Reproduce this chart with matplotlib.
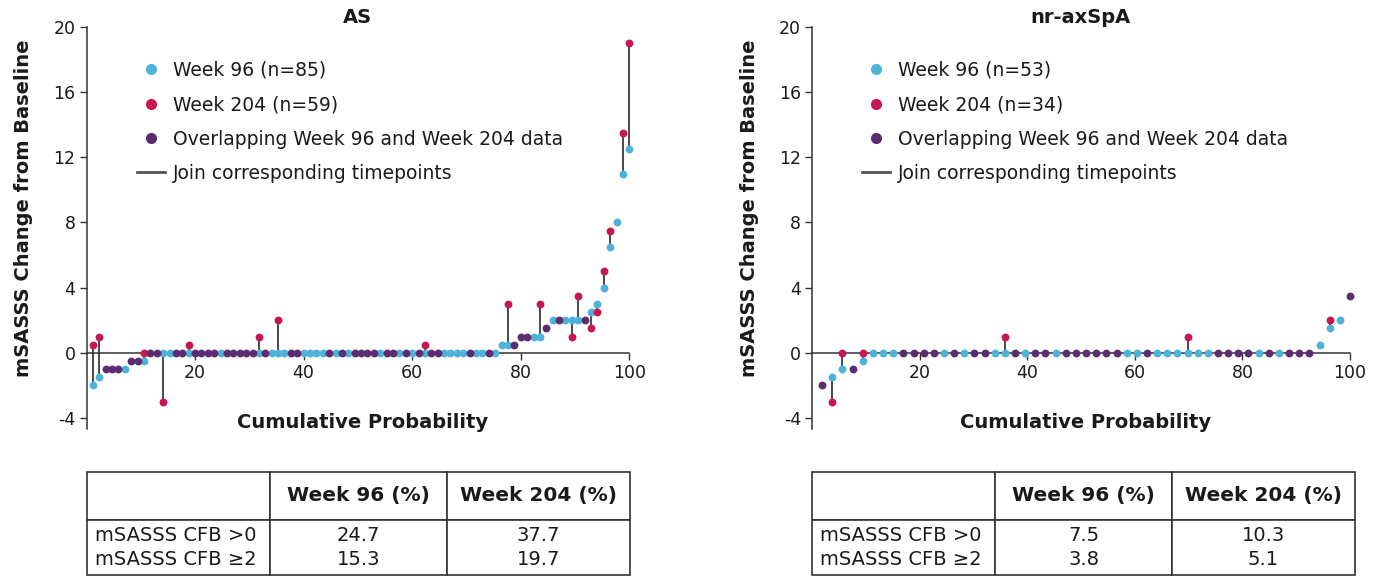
import numpy as np
import matplotlib
matplotlib.use("Agg")
import matplotlib.pyplot as plt
from matplotlib.lines import Line2D

plt.rcParams["font.family"] = ["DejaVu Sans"]
plt.rcParams["axes.unicode_minus"] = False

N = np.nan
# ---------------- data ----------------
PANEL_TITLES = ["AS", "nr-axSpA"]
N_W96 = [85, 53]
N_W204 = [59, 34]

AS_W96 = ([-2, -1.5, -1, -1, -1, -1, -0.5, -0.5, -0.5, 0]
          + [0] * 54
          + [0.5, 0.5, 0.5, 1, 1, 1, 1, 1.5, 2, 2, 2, 2, 2, 2, 2.5, 3, 4, 6.5, 8, 11, 12.5])
AS_W204 = [0.5, 1, -1, -1, -1, N, -0.5, -0.5, 0, 0,
           0, -3, N, 0, 0, 0.5, 0, 0, 0, 0,
           N, 0, 0, 0, 0, 0, 1, 0, N, 2,
           N, 0, 0, N, N, N, N, 0, N, 0,
           N, 0, 0, 0, 0, N, 0, 0, N, 0,
           N, 0, 0.5, 0, 0, N, N, N, N, 0,
           N, N, 0, N, N, 3, 0.5, 1, 1, N,
           3, 1.5, N, 2, N, 1, 3.5, 2, 1.5, 2.5,
           5, 7.5, N, 13.5, 19]

NR_W96 = ([-2, -1.5, -1, -1, -0.5, 0, 0, 0, 0, 0]
          + [0] * 39
          + [0.5, 1.5, 2, 3.5])
NR_W204 = [-2, -3, 0, -1, 0, N, N, N, 0, 0,
           0, 0, N, 0, N, 0, 0, N, 1, 0,
           N, 0, 0, N, 0, 0, 0, 0, 0, 0,
           N, N, 0, N, N, N, 1, N, N, 0,
           0, 0, 0, N, 0, N, 0, 0, 0, N,
           2, N, 3.5]

TABLE_HEADER = ["", "Week 96 (%)", "Week 204 (%)"]
ROW_LABELS = ["mSASSS CFB >0", "mSASSS CFB \u22652"]
AS_TABLE = [["24.7", "37.7"], ["15.3", "19.7"]]
NR_TABLE = [["7.5", "10.3"], ["3.8", "5.1"]]

X_TICKS = [20, 40, 60, 80, 100]
Y_TICKS = [-4, 0, 4, 8, 12, 16, 20]

# ---------------- style ----------------
BLUE = "#4DB3D8"
RED = "#C8174E"
PURPLE = "#5B2C6F"
LINE = "#3a3a3a"
TXT = "#1a1a1a"
SPINE = "#333333"

W, H = 1386, 576
fig = plt.figure(figsize=(W / 100, H / 100), dpi=100)


def px_axes(l, t, r, b):
    return fig.add_axes([l / W, 1 - b / H, (r - l) / W, (b - t) / H])


def draw_panel(ax, w96, w204, title, n96, n204):
    w96 = np.asarray(w96, float)
    w204 = np.asarray(w204, float)
    n = len(w96)
    x = np.arange(1, n + 1) * 100.0 / n
    has = ~np.isnan(w204)
    same = has & (w204 == w96)
    diff = has & ~same
    only = ~has

    ax.vlines(x[diff], w96[diff], w204[diff], color=LINE, lw=1.3, zorder=3, clip_on=False)
    blue_mask = only | diff
    ms = 32
    ax.scatter(x[blue_mask], w96[blue_mask], s=ms, color=BLUE, zorder=5, clip_on=False, linewidths=0)
    ax.scatter(x[diff], w204[diff], s=ms, color=RED, zorder=5, clip_on=False, linewidths=0)
    ax.scatter(x[same], w96[same], s=ms, color=PURPLE, zorder=5, clip_on=False, linewidths=0)

    ax.set_xlim(0, 100)
    ax.set_ylim(-4.7, 20)
    ax.set_xticks(X_TICKS)
    ax.set_yticks(Y_TICKS)
    ax.set_yticklabels([str(v) for v in Y_TICKS])
    for s in ["top", "right"]:
        ax.spines[s].set_visible(False)
    ax.spines["bottom"].set_position(("data", 0))
    for s in ["left", "bottom"]:
        ax.spines[s].set_color(SPINE)
        ax.spines[s].set_linewidth(1.1)
    ax.tick_params(axis="both", direction="out", length=5, width=1.0, color=SPINE,
                   labelsize=12.5, labelcolor=TXT)
    ax.tick_params(axis="x", pad=3)
    ax.tick_params(axis="y", pad=3)
    ax.patch.set_alpha(0)

    ax.set_title(title, fontsize=14, fontweight="bold", color=TXT, pad=-2)
    ax.text(-0.116, 0.55, "mSASSS Change from Baseline", rotation=90, ha="center", va="center",
            transform=ax.transAxes, fontsize=14, fontweight="bold", color=TXT)
    ax.text(0.509, 0.018, "Cumulative Probability", ha="center", va="center",
            transform=ax.transAxes, fontsize=14, fontweight="bold", color=TXT)

    handles = [
        Line2D([], [], ls="none", marker="o", ms=8, mfc=BLUE, mec="none"),
        Line2D([], [], ls="none", marker="o", ms=8, mfc=RED, mec="none"),
        Line2D([], [], ls="none", marker="o", ms=8, mfc=PURPLE, mec="none"),
        Line2D([], [], color="#555555", lw=2),
    ]
    labels = [f"Week 96 (n={n96})", f"Week 204 (n={n204})",
              "Overlapping Week 96 and Week 204 data", "Join corresponding timepoints"]
    leg = ax.legend(handles, labels, loc="upper left", bbox_to_anchor=(0.093, 0.916),
                    frameon=False, fontsize=13.5, handlelength=1.5, handletextpad=0.4,
                    labelspacing=0.82, borderpad=0, borderaxespad=0)
    for t in leg.get_texts():
        t.set_color(TXT)


def draw_table(tax, rows):
    tax.axis("off")
    cell_text = [TABLE_HEADER,
                 ["\n".join(ROW_LABELS), "\n".join(r[0] for r in rows), "\n".join(r[1] for r in rows)]]
    tbl = tax.table(cellText=cell_text, cellLoc="center",
                    colWidths=[183, 177, 183], bbox=[0, 0, 1, 1])
    tbl.auto_set_font_size(False)
    tbl.set_fontsize(14)
    for (r, c), cell in tbl.get_celld().items():
        cell.set_edgecolor(SPINE)
        cell.set_linewidth(1.2)
        cell.set_height(48 if r == 0 else 56)
        cell.get_text().set_color(TXT)
        if r == 0:
            cell.get_text().set_fontweight("bold")
            cell.get_text().set_fontsize(14.5)
        else:
            cell.get_text().set_linespacing(1.3)
        if r == 1 and c == 0:
            cell._loc = "left"
            cell.PAD = 0.045
            cell.get_text().set_ha("left")


ax1 = px_axes(86.5, 27, 629.3, 429.4)
ax2 = px_axes(812, 27, 1350, 429.4)
draw_panel(ax1, AS_W96, AS_W204, PANEL_TITLES[0], N_W96[0], N_W204[0])
draw_panel(ax2, NR_W96, NR_W204, PANEL_TITLES[1], N_W96[1], N_W204[1])

t1 = px_axes(87, 472, 630, 575)
t2 = px_axes(812, 472, 1355, 575)
draw_table(t1, AS_TABLE)
draw_table(t2, NR_TABLE)

fig.savefig("out.png", dpi=100, facecolor="white")
